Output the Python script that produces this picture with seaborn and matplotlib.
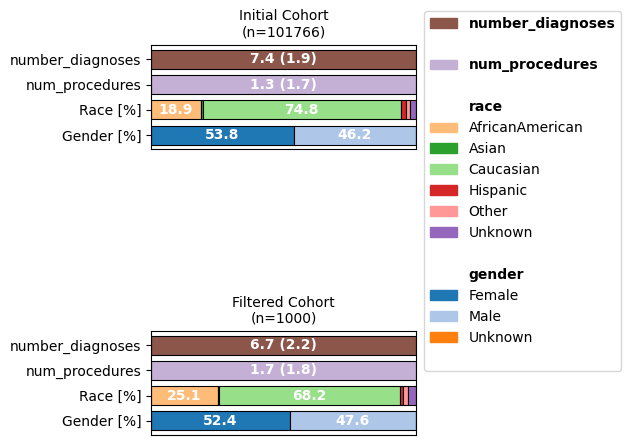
import matplotlib
matplotlib.use('Agg')
import matplotlib.pyplot as plt
import seaborn as sns
from matplotlib.patches import Patch

rows = ['number_diagnoses', 'num_procedures', 'Race [%]', 'Gender [%]']

cohort_titles = ['Initial Cohort', 'Filtered Cohort']
cohort_n = [101766, 1000]

gender_cats = ['Female', 'Male', 'Unknown']
gender_initial = [53.8, 46.2, 0.0]
gender_filtered = [52.4, 47.6, 0.0]

race_cats = ['AfricanAmerican', 'Asian', 'Caucasian', 'Hispanic', 'Other', 'Unknown']
race_initial = [18.9, 0.6, 74.8, 1.9, 1.5, 2.3]
race_filtered = [25.1, 0.6, 68.2, 1.2, 1.8, 3.1]

# mean (std)
procedures_initial = [1.3, 1.7]
procedures_filtered = [1.7, 1.8]
diagnoses_initial = [7.4, 1.9]
diagnoses_filtered = [6.7, 2.2]

pal = sns.color_palette('tab20')
gender_colors = pal[0:3]
race_colors = pal[3:9]
procedures_color = pal[9]
diagnoses_color = pal[10]


def build_segments(gender, race, procs, diags):
    segs = []
    left = 0
    for val, c in zip(gender, gender_colors):
        segs.append(dict(row='Gender [%]', left=left, width=val, color=c,
                         text=f'{val:.1f}' if val >= 5 else ''))
        left += val
    left = 0
    for val, c in zip(race, race_colors):
        segs.append(dict(row='Race [%]', left=left, width=val, color=c,
                         text=f'{val:.1f}' if val >= 5 else ''))
        left += val
    segs.append(dict(row='num_procedures', left=0, width=100, color=procedures_color,
                     text=f'{procs[0]:.1f} ({procs[1]:.1f})'))
    segs.append(dict(row='number_diagnoses', left=0, width=100, color=diagnoses_color,
                     text=f'{diags[0]:.1f} ({diags[1]:.1f})'))
    return segs


def draw_cohort(ax, segs, title):
    for seg in segs:
        sns.barplot(x=[seg['width']], y=[seg['row']], order=rows, orient='y',
                    left=seg['left'], color=seg['color'], saturation=1,
                    edgecolor='black', linewidth=0.8, width=0.75,
                    errorbar=None, ax=ax)
        if seg['text']:
            ax.text(seg['left'] + seg['width'] / 2, rows.index(seg['row']), seg['text'],
                    ha='center', va='center', color='white', fontweight='bold', fontsize=10)
    ax.set_xlim(0, 100)
    ax.set_ylim(3.5625, -0.5625)
    ax.set_xticks([])
    ax.set_xlabel('')
    ax.set_ylabel('')
    ax.set_title(title, fontsize=10)
    for s in ax.spines.values():
        s.set_visible(True)
        s.set_color('black')


fig = plt.figure(figsize=(6.3, 4.45), dpi=100)
ax1 = fig.add_axes([0.2397, 0.6645, 0.4206, 0.2344])
ax2 = fig.add_axes([0.2397, 0.0225, 0.4206, 0.2335])

draw_cohort(ax1, build_segments(gender_initial, race_initial, procedures_initial, diagnoses_initial),
            f'{cohort_titles[0]}\n(n={cohort_n[0]})')
draw_cohort(ax2, build_segments(gender_filtered, race_filtered, procedures_filtered, diagnoses_filtered),
            f'{cohort_titles[1]}\n(n={cohort_n[1]})')

# legend with group headers
blank = Patch(facecolor='none', edgecolor='none')
handles = [Patch(color=diagnoses_color), blank, Patch(color=procedures_color), blank, blank]
labels = ['number_diagnoses', '', 'num_procedures', '', 'race']
for cat, c in zip(race_cats, race_colors):
    handles.append(Patch(color=c))
    labels.append(cat)
handles += [blank, blank]
labels += ['', 'gender']
for cat, c in zip(gender_cats, gender_colors):
    handles.append(Patch(color=c))
    labels.append(cat)
handles.append(blank)
labels.append('')

leg = fig.legend(handles, labels, loc='upper left', bbox_to_anchor=(424 / 630, 1 - 11 / 445),
                 borderaxespad=0, fontsize=10)
for t in leg.get_texts():
    if t.get_text() in ('number_diagnoses', 'num_procedures', 'race', 'gender'):
        t.set_fontweight('bold')

fig.savefig('out.png', dpi=100)
